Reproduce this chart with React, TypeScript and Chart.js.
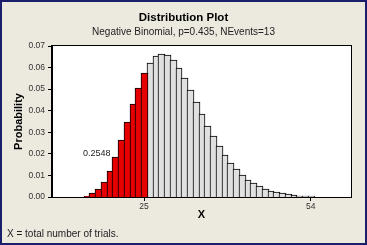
import React, { useEffect, useRef } from "react";
import { Chart, registerables } from "chart.js";

Chart.register(...registerables);

// Data
const redTrials = [13, 14, 15, 16, 17, 18, 19, 20, 21, 22, 23, 24, 25];
const redProbabilities = [
  0.00002, 0.00015, 0.00058, 0.00164, 0.00371, 0.00714, 0.0121, 0.01855,
  0.0262, 0.03454, 0.04293, 0.05072, 0.05731,
];
const greyTrials = [
  26, 27, 28, 29, 30, 31, 32, 33, 34, 35, 36, 37, 38, 39, 40, 41, 42, 43, 44,
  45, 46, 47, 48, 49, 50, 51, 52, 53, 54,
];
const greyProbabilities = [
  0.06227, 0.06534, 0.06645, 0.0657, 0.06333, 0.05963, 0.05497, 0.0497,
  0.04412, 0.03853, 0.03313, 0.02807, 0.02348, 0.01939, 0.01582, 0.01277,
  0.0102, 0.00807, 0.00632, 0.00491, 0.00379, 0.00289, 0.0022, 0.00165,
  0.00124, 0.00092, 0.00068, 0.0005, 0.00037,
];
const xTickValues = [25, 54];
const yTickValues = [0, 0.01, 0.02, 0.03, 0.04, 0.05, 0.06, 0.07];

const titleText = "Distribution Plot";
const subtitleText = "Negative Binomial, p=0.435, NEvents=13";
const yAxisTitle = "Probability";
const xAxisTitle = "X";
const footnoteText = "X = total number of trials.";
const shadedAreaLabel = "0.2548";

const FONT = "'Liberation Sans', Arial, sans-serif";
const BG = "#ECE9DF";
const FRAME = "#1B1F6B";

const snapPlugin = {
  id: "snapBars",
  beforeDatasetsDraw(chart: any) {
    chart.data.datasets.forEach((_: any, di: number) => {
      const meta = chart.getDatasetMeta(di);
      meta.data.forEach((el: any) => {
        const left = Math.round(el.x - el.width / 2);
        const right = Math.round(el.x + el.width / 2) + 1;
        el.width = right - left;
        el.x = left + el.width / 2;
        el.y = Math.round(el.y);
        el.base = Math.round(el.base);
      });
    });
  },
};

const decorPlugin = {
  id: "decor",
  beforeDraw(chart: any) {
    const { ctx, width, height, chartArea } = chart;
    ctx.save();
    ctx.fillStyle = BG;
    ctx.fillRect(0, 0, width, height);
    ctx.strokeStyle = FRAME;
    ctx.lineWidth = 2;
    ctx.strokeRect(1, 1, width - 2, height - 2);
    ctx.fillStyle = "#FFFFFF";
    ctx.fillRect(
      chartArea.left,
      chartArea.top,
      chartArea.right - chartArea.left,
      chartArea.bottom - chartArea.top
    );
    ctx.restore();
  },
  afterDraw(chart: any) {
    const { ctx, width, chartArea } = chart;
    ctx.save();
    ctx.strokeStyle = "#000";
    ctx.lineWidth = 1;
    ctx.strokeRect(
      Math.round(chartArea.left) - 0.5,
      Math.round(chartArea.top) - 0.5,
      Math.round(chartArea.right - chartArea.left) + 1,
      Math.round(chartArea.bottom - chartArea.top) + 1
    );

    ctx.fillStyle = "#000";
    ctx.textAlign = "center";
    ctx.textBaseline = "alphabetic";
    ctx.font = `bold 11.5px ${FONT}`;
    ctx.fillText(titleText, width / 2, 21);
    ctx.font = `10px ${FONT}`;
    ctx.fillStyle = "#222";
    ctx.fillText(subtitleText, width / 2, 35);

    ctx.fillStyle = "#000";
    ctx.font = `bold 11px ${FONT}`;
    ctx.fillText(xAxisTitle, (chartArea.left + chartArea.right) / 2, 218);

    ctx.save();
    ctx.translate(22, (chartArea.top + chartArea.bottom) / 2);
    ctx.rotate(-Math.PI / 2);
    ctx.fillText(yAxisTitle, 0, 0);
    ctx.restore();

    const xs = chart.scales.x;
    const ys = chart.scales.y;
    ctx.font = `9px ${FONT}`;
    ctx.fillStyle = "#222";
    ctx.fillText(shadedAreaLabel, xs.getPixelForValue(16.8), ys.getPixelForValue(0.0189));

    ctx.textAlign = "left";
    ctx.font = `10px ${FONT}`;
    ctx.fillText(footnoteText, 7, 237);
    ctx.restore();
  },
};

export default function App() {
  const canvasRef = useRef<HTMLCanvasElement | null>(null);

  useEffect(() => {
    const canvas = canvasRef.current;
    if (!canvas) return;
    const chart = new Chart(canvas, {
      type: "bar",
      data: {
        datasets: [
          {
            label: "X <= 25",
            data: redTrials.map((x, i) => ({ x, y: redProbabilities[i] })),
            backgroundColor: "#E60000",
            borderColor: "#000",
            borderWidth: 1,
            barPercentage: 1,
            categoryPercentage: 1,
            grouped: false,
          } as any,
          {
            label: "X > 25",
            data: greyTrials.map((x, i) => ({ x, y: greyProbabilities[i] })),
            backgroundColor: "#E0E0E0",
            borderColor: "#000",
            borderWidth: 1,
            barPercentage: 1,
            categoryPercentage: 1,
            grouped: false,
          } as any,
        ],
      },
      options: {
        responsive: false,
        animation: false,
        devicePixelRatio: 1,
        layout: { padding: { left: 0, right: 16, top: 46, bottom: 0 } },
        plugins: {
          legend: { display: false },
          title: { display: false },
          tooltip: { enabled: false },
        },
        scales: {
          x: {
            type: "linear",
            min: 9,
            max: 61,
            offset: false,
            grid: {
              offset: false,
              drawOnChartArea: false,
              tickLength: 4,
              color: "#000",
            },
            border: { display: true, color: "#000" },
            afterBuildTicks: (scale: any) => {
              scale.ticks = xTickValues.map((v) => ({ value: v }));
            },
            ticks: {
              autoSkip: false,
              maxRotation: 0,
              padding: 1,
              color: "#333",
              font: { family: FONT, size: 8.5 },
              callback: (v: any) => String(v),
            },
            afterFit: (scale: any) => {
              scale.height = 48;
            },
          } as any,
          y: {
            min: 0,
            max: 0.07,
            afterBuildTicks: (scale: any) => {
              scale.ticks = yTickValues.map((v) => ({ value: v }));
            },
            grid: {
              drawOnChartArea: false,
              tickLength: 4,
              color: "#000",
            },
            border: { display: true, color: "#000" },
            ticks: {
              padding: 3,
              color: "#333",
              font: { family: FONT, size: 8.5 },
              callback: (v: any) => Number(v).toFixed(2),
            },
            afterFit: (scale: any) => {
              scale.width = 52;
            },
          } as any,
        },
      },
      plugins: [snapPlugin, decorPlugin],
    });
    return () => chart.destroy();
  }, []);

  return (
    <div style={{ position: "fixed", left: 0, top: 0, width: 367, height: 245 }}>
      <canvas ref={canvasRef} width={367} height={245} />
    </div>
  );
}
